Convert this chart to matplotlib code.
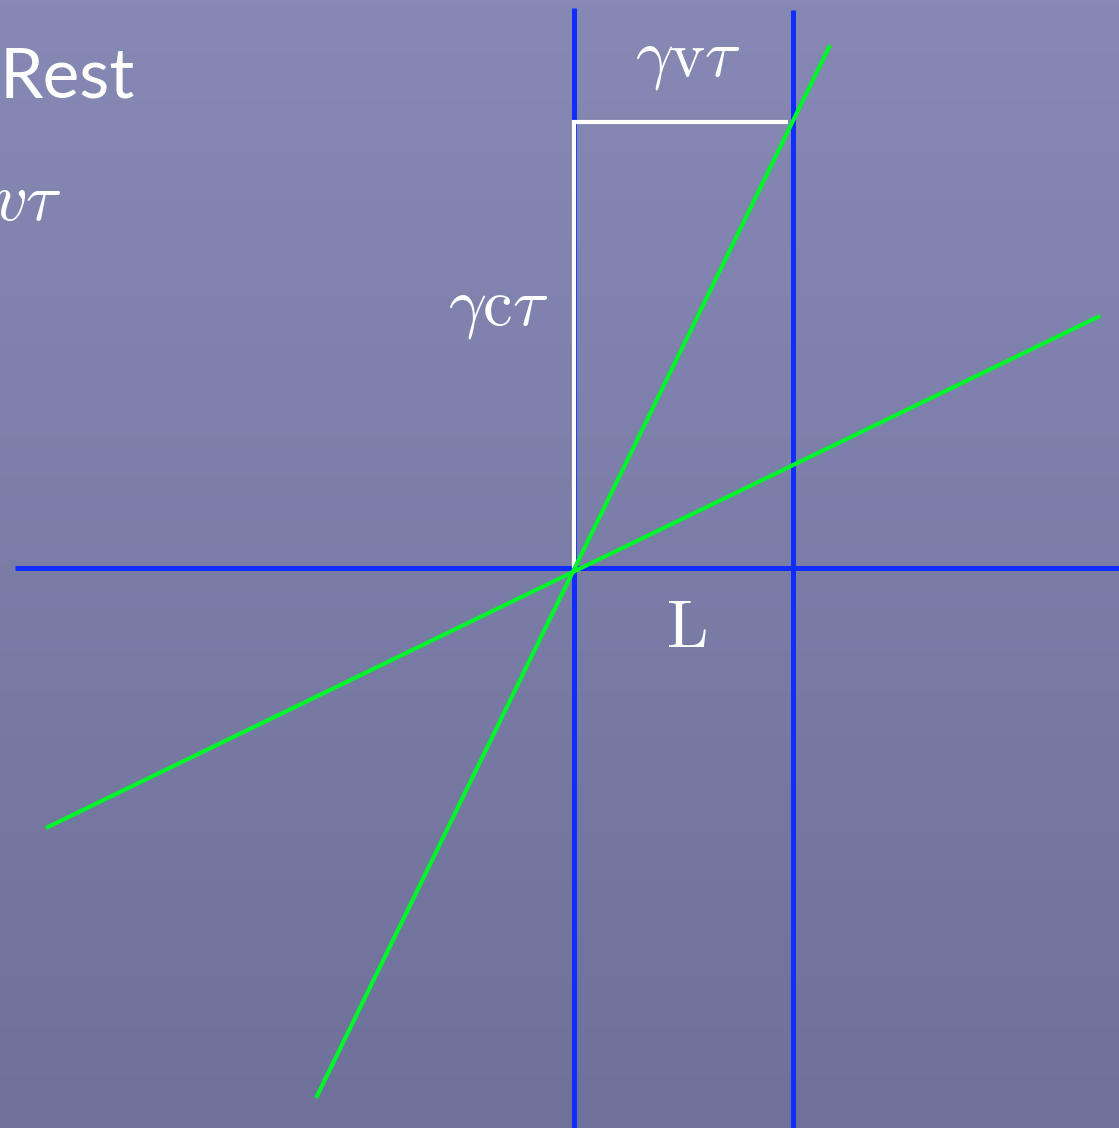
import numpy as np
import matplotlib.pyplot as plt

plt.rcParams['mathtext.fontset'] = 'cm'

# units: L = 1, c = 1 (origin at the event where the green lines cross)
L = 1.0
gct = 2.037                 # height of the white leg (gamma c tau)

# world lines / axes (x, ct)
blue_x0 = [0.0, 0.0]
blue_t0 = [-2.56, 2.557]
blue_x1 = [L, L]
blue_t1 = [-2.56, 2.548]
blue_xh = [-2.553, 2.49]
blue_th = [0.0, 0.0]

green_steep_x = [-1.178, 1.169]
green_steep_t = [-2.420, 2.388]
green_flat_x = [-2.411, 2.402]
green_flat_t = [-1.187, 1.151]

white_x = [0.0, 0.0, 0.977]
white_t = [0.0, gct, gct]

BLUE = '#0f2dff'
GREEN = '#00f52a'

fig = plt.figure(figsize=(11.19, 11.28), dpi=100)

# background, slightly lighter at the top like the slide
bg = fig.add_axes([0, 0, 1, 1])
grad = np.linspace(0, 1, 256)[:, None]
top = np.array([133, 137, 180]) / 255
bot = np.array([110, 114, 154]) / 255
img = top + (bot - top) * grad[:, :, None]
bg.imshow(img, aspect='auto', extent=[0, 1, 0, 1], origin='upper')
bg.axis('off')

ax = fig.add_axes([0, 0, 1, 1])
ax.patch.set_alpha(0)
ax.set_xlim(-574 / 219, 545 / 219)
ax.set_ylim(-560 / 219, 568 / 219)
ax.axis('off')

ax.plot(blue_x0, blue_t0, color=BLUE, lw=3.6, solid_capstyle='butt')
ax.plot(blue_x1, blue_t1, color=BLUE, lw=3.6, solid_capstyle='butt')
ax.plot(blue_xh, blue_th, color=BLUE, lw=3.6, solid_capstyle='butt')

ax.plot(white_x, white_t, color='white', lw=3.0, solid_capstyle='butt',
        solid_joinstyle='miter')

ax.plot(green_steep_x, green_steep_t, color=GREEN, lw=3.0, solid_capstyle='butt')
ax.plot(green_flat_x, green_flat_t, color=GREEN, lw=3.0, solid_capstyle='butt')

# labels
ax.text(0.52, 2.247, r'$\gamma\mathrm{v}\tau$', color='white', fontsize=48,
        ha='center', va='baseline')
ax.text(-0.119, 1.11, r'$\gamma\mathrm{c}\tau$', color='white', fontsize=48,
        ha='right', va='baseline')
ax.text(0.511, -0.361, r'$\mathrm{L}$', color='white', fontsize=48,
        ha='center', va='baseline')

fig.text(0.0, 1 - 98 / 1128, 'Rest', color='white', fontsize=50,
         family='Lato', ha='left', va='baseline')
fig.text(62 / 1119, 1 - 219 / 1128, r'$\gamma v\tau$', color='white',
         fontsize=48, ha='right', va='baseline')

fig.savefig('out.png', dpi=100)
